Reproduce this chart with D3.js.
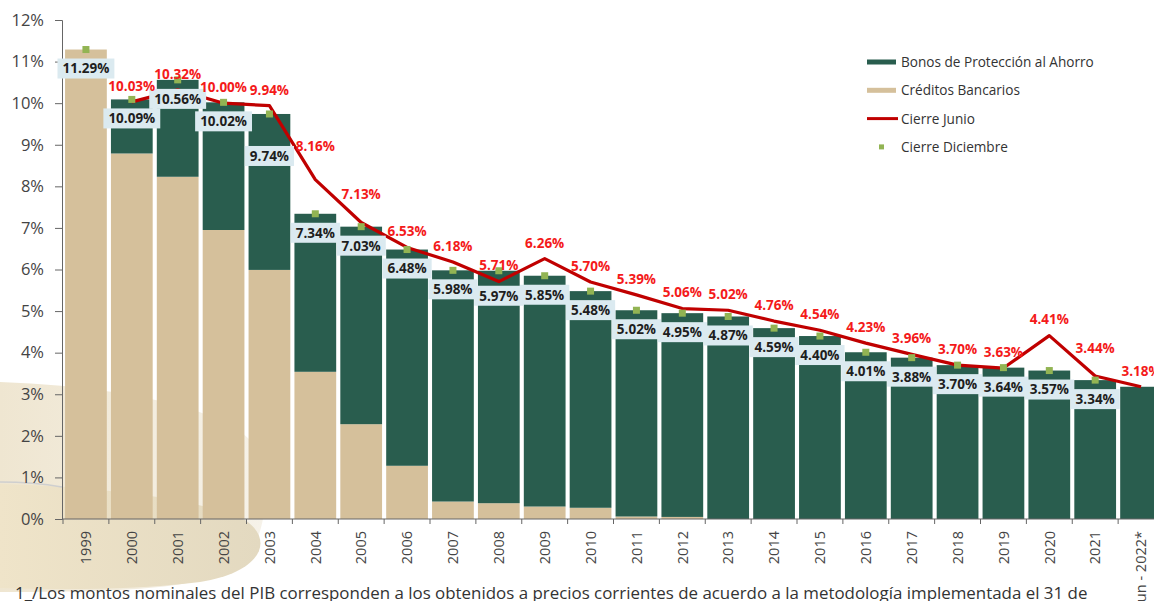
<!DOCTYPE html>
<html>
<head>
<meta charset="utf-8">
<script src="https://cdn.jsdelivr.net/npm/d3@7"></script>
<style>
  body { margin: 0; background: #fff; }
  svg { display: block; font-family: "Open Sans", sans-serif; }
</style>
</head>
<body>
<svg width="1154" height="601"></svg>
<script>
// Saldo de la deuda del IPAB como % del PIB

var years = ["1999", "2000", "2001", "2002", "2003", "2004", "2005", "2006", "2007", "2008",
    "2009", "2010", "2011", "2012", "2013", "2014", "2015", "2016", "2017", "2018",
    "2019", "2020", "2021", "Jun - 2022*"];

var creditos = [11.29, 8.79, 8.23, 6.95, 5.99, 3.54, 2.28, 1.28, 0.42, 0.38,
    0.30, 0.27, 0.06, 0.05, 0, 0, 0, 0, 0, 0,
    0, 0, 0, 0];

var bonos = [0, 1.30, 2.33, 3.07, 3.75, 3.80, 4.75, 5.20, 5.56, 5.59,
    5.55, 5.21, 4.96, 4.90, 4.87, 4.59, 4.40, 4.01, 3.88, 3.70,
    3.64, 3.57, 3.34, 3.18];

var cierreJunio = [null, 10.03, 10.32, 10.00, 9.94, 8.16, 7.13, 6.53, 6.18, 5.71,
    6.26, 5.70, 5.39, 5.06, 5.02, 4.76, 4.54, 4.23, 3.96, 3.70,
    3.63, 4.41, 3.44, 3.18];

var cierreDiciembre = [11.29, 10.09, 10.56, 10.02, 9.74, 7.34, 7.03, 6.48, 5.98, 5.97,
    5.85, 5.48, 5.02, 4.95, 4.87, 4.59, 4.40, 4.01, 3.88, 3.70,
    3.64, 3.57, 3.34, null];

var yTicks = [0, 1, 2, 3, 4, 5, 6, 7, 8, 9, 10, 11, 12];

var footnote = "1_/Los montos nominales del PIB corresponden a los obtenidos a precios corrientes de acuerdo a la metodología implementada el 31 de";

// label nudges (px) where the original moved labels to avoid overlaps
var boxNudge = {"2003": 23, "2008": 6};
var junioNudge = {"2004": -18, "2005": -12, "2021": -12};

var colGreen = "#295d4e",
    colTan = "#d5c09b",
    colLine = "#c00000",
    colRedText = "#f41a1a",
    colMarker = "#92b453",
    colBox = "#dbeaf0";

var svg = d3.select("svg");

// decorative background swoosh, bottom left
var defs = svg.append("defs");
var grad = defs.append("linearGradient").attr("id", "swoosh").attr("x1", 0).attr("x2", 1);
grad.append("stop").attr("offset", "0%").attr("stop-color", "#efe6d1");
grad.append("stop").attr("offset", "100%").attr("stop-color", "#f6f2e9");
var grad2 = defs.append("linearGradient").attr("id", "swoosh2").attr("x1", 0).attr("x2", 1);
grad2.append("stop").attr("offset", "0%").attr("stop-color", "#efe4c9");
grad2.append("stop").attr("offset", "100%").attr("stop-color", "#e3d9c0");

svg.append("path")
    .attr("d", "M0,382 C110,386 215,405 250,440 C272,470 270,530 245,560 C215,590 120,592 0,592 Z")
    .attr("fill", "url(#swoosh)");
svg.append("path")
    .attr("d", "M0,484 C90,486 200,498 245,520 C275,540 262,572 200,582 C140,590 60,590 0,588 Z")
    .attr("fill", "url(#swoosh2)");
svg.append("path")
    .attr("d", "M0,482 C25,482 45,484 62,487")
    .attr("fill", "none")
    .attr("stroke", "#cfcfcf")
    .attr("stroke-width", 1.5);

var x = d3.scaleBand()
    .domain(years)
    .range([63, 1164])
    .paddingInner(0.09)
    .paddingOuter(0.045);

var y = d3.scaleLinear()
    .domain([0, 12])
    .range([519, 20]);

var table = years.map(function(yr, i) {
    return {year: yr, creditos: creditos[i], bonos: bonos[i], junio: cierreJunio[i], diciembre: cierreDiciembre[i]};
});

// stacked bars
var stack = d3.stack().keys(["creditos", "bonos"]);
var series = stack(table);
var fills = {creditos: colTan, bonos: colGreen};

svg.append("g").selectAll("g")
    .data(series)
    .enter().append("g")
    .attr("fill", function(s) { return fills[s.key]; })
    .selectAll("rect")
    .data(function(s) { return s; })
    .enter().append("rect")
    .attr("x", function(d) { return x(d.data.year); })
    .attr("width", x.bandwidth())
    .attr("y", function(d) { return y(d[1]); })
    .attr("height", function(d) { return y(d[0]) - y(d[1]); });

// axes
var step = x.step();
var yAxis = svg.append("g")
    .attr("transform", "translate(62,0)")
    .call(d3.axisLeft(y).tickValues(yTicks).tickSize(7).tickPadding(11)
        .tickFormat(function(d) { return d + "%"; }));
yAxis.select(".domain").attr("stroke", "#666");
yAxis.selectAll(".tick line").attr("stroke", "#666");
yAxis.selectAll(".tick text")
    .attr("fill", "#444")
    .style("font-size", "16.5px")
    .style("font-family", "Open Sans, sans-serif");

var xAxisG = svg.append("g");
xAxisG.append("line")
    .attr("x1", 62).attr("x2", 1154)
    .attr("y1", y(0)).attr("y2", y(0))
    .attr("stroke", "#666");
xAxisG.selectAll(".xtick")
    .data(years)
    .enter().append("line")
    .attr("class", "xtick")
    .attr("x1", function(d) { return x(d) - step * 0.045; })
    .attr("x2", function(d) { return x(d) - step * 0.045; })
    .attr("y1", y(0)).attr("y2", y(0) + 5)
    .attr("stroke", "#666");
xAxisG.selectAll(".xlab")
    .data(years)
    .enter().append("text")
    .attr("class", "xlab")
    .attr("transform", function(d) {
        return "translate(" + (x(d) + x.bandwidth() / 2) + "," + 531 + ") rotate(-90)";
    })
    .attr("dy", "0.36em")
    .attr("text-anchor", "end")
    .attr("fill", "#444")
    .style("font-size", "14.5px")
    .text(function(d) { return d; });

// cierre junio line
var cx = function(d) { return x(d.year) + x.bandwidth() / 2; };
var junioPts = table.filter(function(d) { return d.junio != null; });
var line = d3.line()
    .x(cx)
    .y(function(d) { return y(d.junio); });
svg.append("path")
    .datum(junioPts)
    .attr("d", line)
    .attr("fill", "none")
    .attr("stroke", colLine)
    .attr("stroke-width", 3.2)
    .attr("stroke-linejoin", "round");

// cierre diciembre markers
var dicPts = table.filter(function(d) { return d.diciembre != null; });
svg.append("g").selectAll("rect")
    .data(dicPts)
    .enter().append("rect")
    .attr("x", function(d) { return cx(d) - 3.5; })
    .attr("y", function(d) { return y(d.diciembre) - 3.5; })
    .attr("width", 7)
    .attr("height", 7)
    .attr("fill", colMarker);

// boxed diciembre labels
var boxes = svg.append("g").selectAll("g")
    .data(dicPts)
    .enter().append("g")
    .attr("transform", function(d) {
        return "translate(" + cx(d) + "," + (y(d.diciembre) + 19 + (boxNudge[d.year] || 0)) + ")";
    });
boxes.append("rect").attr("fill", colBox);
boxes.append("text")
    .attr("text-anchor", "middle")
    .attr("dy", "0.36em")
    .attr("fill", "#1e1e1e")
    .style("font-size", "13.5px")
    .style("font-weight", "bold")
    .text(function(d) { return d.diciembre.toFixed(2) + "%"; });
boxes.each(function() {
    var g = d3.select(this);
    var bb = g.select("text").node().getBBox();
    g.select("rect")
        .attr("x", bb.x - 5)
        .attr("y", -10)
        .attr("width", bb.width + 10)
        .attr("height", 20);
});

// red junio labels
svg.append("g").selectAll("text")
    .data(junioPts)
    .enter().append("text")
    .attr("x", cx)
    .attr("y", function(d) { return y(d.junio) - 16 + (junioNudge[d.year] || 0); })
    .attr("dy", "0.36em")
    .attr("text-anchor", "middle")
    .attr("fill", colRedText)
    .style("font-size", "13.5px")
    .style("font-weight", "bold")
    .text(function(d) { return d.junio.toFixed(2) + "%"; });

// legend
var legend = svg.append("g").attr("transform", "translate(867,62)");
var legItems = [
    {name: "Bonos de Protección al Ahorro", type: "bar", color: colGreen},
    {name: "Créditos Bancarios", type: "bar", color: colTan},
    {name: "Cierre Junio", type: "line", color: colLine},
    {name: "Cierre Diciembre", type: "dot", color: colMarker}
];
var legG = legend.selectAll("g")
    .data(legItems)
    .enter().append("g")
    .attr("transform", function(d, i) { return "translate(0," + (i * 28.3) + ")"; });
legG.filter(function(d) { return d.type == "bar"; })
    .append("rect")
    .attr("x", 0).attr("y", -2.5)
    .attr("width", 29).attr("height", 5)
    .attr("fill", function(d) { return d.color; });
legG.filter(function(d) { return d.type == "line"; })
    .append("line")
    .attr("x1", 0).attr("x2", 31)
    .attr("stroke", function(d) { return d.color; })
    .attr("stroke-width", 3);
legG.filter(function(d) { return d.type == "dot"; })
    .append("rect")
    .attr("x", 12).attr("y", -2.5)
    .attr("width", 5).attr("height", 5)
    .attr("fill", function(d) { return d.color; });
legG.append("text")
    .attr("x", 34)
    .attr("dy", "0.36em")
    .attr("fill", "#333")
    .style("font-size", "13.6px")
    .text(function(d) { return d.name; });

// footnote
svg.append("text")
    .attr("x", 15)
    .attr("y", 599)
    .attr("fill", "#333")
    .style("font-size", "16.9px")
    .text(footnote);
</script>
</body>
</html>
